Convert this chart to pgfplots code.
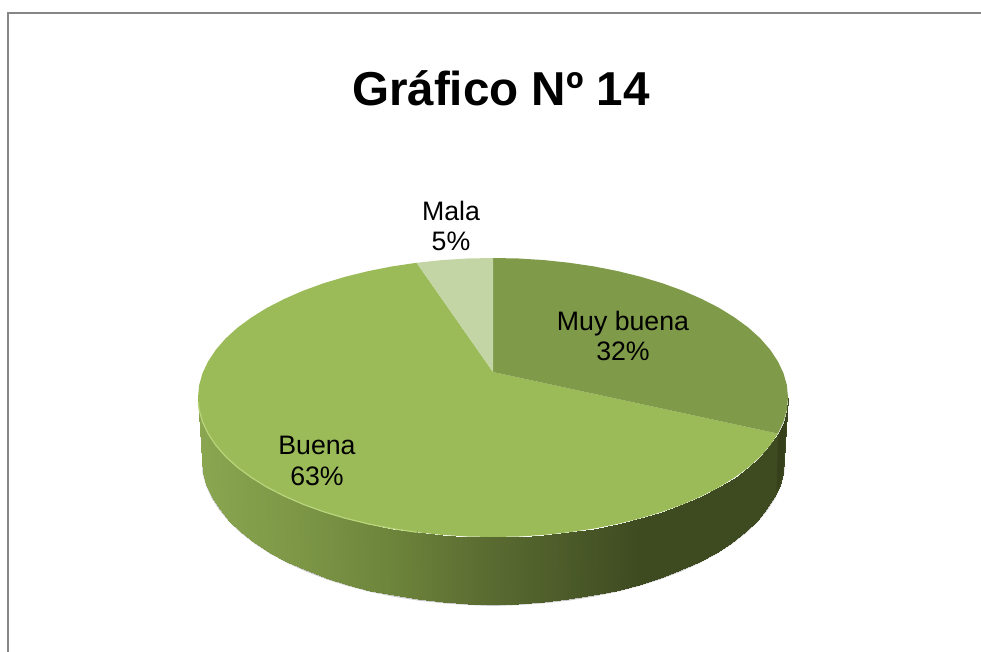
\documentclass[border=0pt]{standalone}
\usepackage{fontspec}
\setmainfont{Liberation Sans}
\usepackage{pgfplots}
\pgfplotsset{compat=1.18}
\definecolor{sliceMB}{HTML}{7F9A48}
\definecolor{sliceB}{HTML}{9BBB59}
\definecolor{sliceM}{HTML}{C3D5A4}
\definecolor{frameC}{HTML}{868686}
\definecolor{rimC}{HTML}{B9D57C}
\begin{document}
\begin{tikzpicture}
\path[use as bounding box] (0,0) rectangle (981pt,652pt);
\begin{axis}[
  at={(0,0)}, anchor=south west,
  scale only axis, width=981pt, height=652pt,
  xmin=0, xmax=981, ymin=0, ymax=652, y dir=reverse,
  hide axis, clip=true,
  colormap={sidewall}{rgb255(0)=(138,166,80) rgb255(102)=(124,150,70) rgb255(202)=(107,130,58) rgb255(282)=(92,109,50) rgb255(442)=(62,75,33) rgb255(590)=(62,75,33)}]
% frame
\addplot[frameC, line width=1.3pt, mark=none] coordinates {(8,652)(8,13)(981,13)};
% soft shadow under the side wall
\addplot[gray, opacity=0.45, line width=3pt, mark=none] coordinates {
 (203,440)(204,472.6)(207.4,485)(212.9,497.3)(220.6,509.2)(230.3,520.9)(242,532)(255.6,542.6)(271.1,552.6)(288.2,561.8)(306.9,570.3)(327.1,578)(348.5,584.7)(371,590.5)(394.5,595.3)(418.7,599.1)(443.5,601.8)(468.6,603.5)(493,604.5)
 (518.4,603.5)(543.5,601.8)(568.3,599.1)(592.5,595.3)(616,590.5)(638.5,584.7)(659.9,578)(680.1,570.3)(698.8,561.8)(715.9,552.6)(731.4,542.6)(745,532)(756.7,520.9)(766.4,509.2)(774.1,497.3)(779.6,485)(782.9,472.6)(784,440)};
% side wall: first row upper rim, second row lower rim, meta = position along the wall
\addplot[surf, shader=interp, mesh/rows=2, mesh/ordering=x varies, point meta=explicit] table[x=x, y=y, meta=c] {
x y c
198 397.5 198
199.1 409.7 199.1
202.5 421.7 202.5
208.1 433.6 208.1
215.8 445.2 215.8
225.6 456.5 225.6
237.5 467.3 237.5
251.4 477.5 251.4
267 487.2 267
284.4 496.1 284.4
303.4 504.4 303.4
323.8 511.8 323.8
345.5 518.3 345.5
368.3 523.9 368.3
392.1 528.6 392.1
416.6 532.2 416.6
441.8 534.9 441.8
467.3 536.5 467.3
493 537 493
518.7 536.5 518.7
544.2 534.9 544.2
569.4 532.2 569.4
593.9 528.6 593.9
617.7 523.9 617.7
640.5 518.3 640.5
662.2 511.8 662.2
682.6 504.4 682.6
701.6 496.1 701.6
719 487.2 719
734.6 477.5 734.6
748.5 467.3 748.5
760.4 456.5 760.4
770.2 445.2 770.2
777.9 433.6 777.9
783.5 421.7 783.5
786.9 409.7 786.9
788 397.5 788
202 460 198
203.1 472.6 199.1
206.4 485 202.5
211.9 497.3 208.1
219.6 509.2 215.8
229.3 520.9 225.6
241 532 237.5
254.6 542.6 251.4
270.1 552.6 267
287.2 561.8 284.4
305.9 570.3 303.4
326.1 578 323.8
347.5 584.7 345.5
370 590.5 368.3
393.5 595.3 392.1
417.7 599.1 416.6
442.5 601.8 441.8
467.6 603.5 467.3
493 604 493
518.4 603.5 518.7
543.5 601.8 544.2
568.3 599.1 569.4
592.5 595.3 593.9
616 590.5 617.7
638.5 584.7 640.5
659.9 578 662.2
680.1 570.3 682.6
698.8 561.8 701.6
715.9 552.6 719
731.4 542.6 734.6
745 532 748.5
756.7 520.9 760.4
766.4 509.2 770.2
774.1 497.3 777.9
779.6 485 783.5
782.9 472.6 786.9
784 460 788
};
% side wall of the Muy buena slice
\addplot[draw=none, fill=black, fill opacity=0.12, mark=none] coordinates {
 (777.9,433.6)(783.5,421.7)(786.9,409.7)(788,397.5)(784,460)(782.9,472.6)(779.6,485)(776.5,492)} -- cycle;
% Buena
\addplot[draw=none, fill=sliceB, mark=none] coordinates {
 (493,372)(777.9,433.6)(770.2,445.2)(760.4,456.5)(748.5,467.3)(734.6,477.5)(719,487.2)(701.6,496.1)(682.6,504.4)(662.2,511.8)(640.5,518.3)(617.7,523.9)(593.9,528.6)(569.4,532.2)(544.2,534.9)(518.7,536.5)(493,537)
 (467.3,536.5)(441.8,534.9)(416.6,532.2)(392.1,528.6)(368.3,523.9)(345.5,518.3)(323.8,511.8)(303.4,504.4)(284.4,496.1)(267,487.2)(251.4,477.5)(237.5,467.3)(225.6,456.5)(215.8,445.2)(208.1,433.6)(202.5,421.7)(199.1,409.7)(198,397.5)
 (199.1,385.3)(202.5,373.3)(208.1,361.4)(215.8,349.8)(225.6,338.5)(237.5,327.7)(251.4,317.5)(267,307.8)(284.4,298.9)(303.4,290.6)(323.8,283.2)(345.5,276.7)(368.3,271.1)(392.1,266.4)(416.6,262.8)} -- cycle;
% Muy buena
\addplot[draw=none, fill=sliceMB, mark=none] coordinates {
 (493,372)(493,258)(518.7,258.5)(544.2,260.1)(569.4,262.8)(593.9,266.4)(617.7,271.1)(640.5,276.7)(662.2,283.2)(682.6,290.6)(701.6,298.9)(719,307.8)(734.6,317.5)(748.5,327.7)(760.4,338.5)(770.2,349.8)(777.9,361.4)(783.5,373.3)(786.9,385.3)(788,397.5)(786.9,409.7)(783.5,421.7)(777.9,433.6)} -- cycle;
% Mala
\addplot[draw=none, fill=sliceM, mark=none] coordinates {
 (493,372)(416.6,262.8)(441.8,260.1)(467.3,258.5)(493,258)} -- cycle;
% light rim along the front edge
\addplot[rimC, line width=1.2pt, mark=none] coordinates {
 (198.3,402)(199.1,409.7)(202.5,421.7)(208.1,433.6)(215.8,445.2)(225.6,456.5)(237.5,467.3)(251.4,477.5)(267,487.2)(284.4,496.1)(303.4,504.4)(323.8,511.8)(345.5,518.3)(368.3,523.9)(392.1,528.6)(416.6,532.2)};
% texts
\node[font=\fontsize{47.6}{50}\selectfont\bfseries] at (axis cs:501,88) {Gráfico Nº 14};
\node[font=\fontsize{26.7}{30.5}\selectfont, align=center] at (axis cs:451,226) {Mala\\5\%};
\node[font=\fontsize{26.7}{30.5}\selectfont, align=center] at (axis cs:623,336) {Muy buena\\32\%};
\node[font=\fontsize{26.7}{30.5}\selectfont, align=center] at (axis cs:317,461) {Buena\\63\%};
\end{axis}
\end{tikzpicture}
\end{document}
